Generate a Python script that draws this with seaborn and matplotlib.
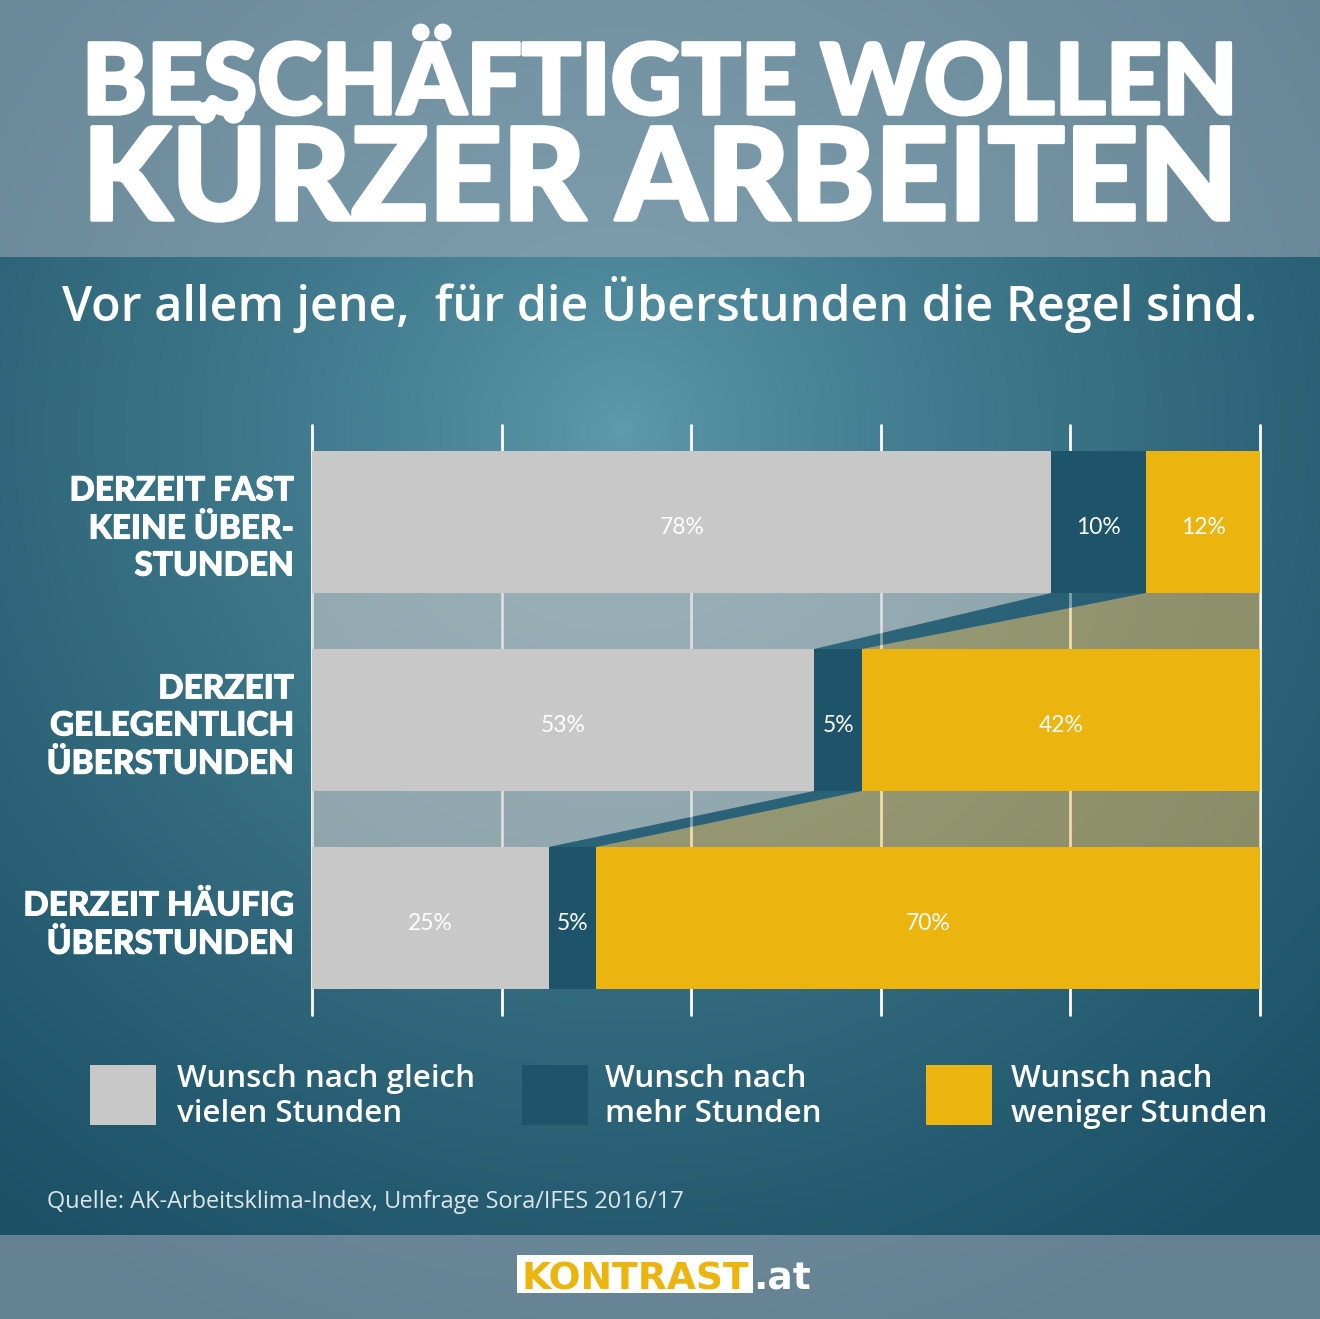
import numpy as np
import pandas as pd
import matplotlib
matplotlib.use("Agg")
import matplotlib.pyplot as plt
import matplotlib.patheffects as pe
import seaborn as sns
from matplotlib.patches import Rectangle, Polygon


# ======================
# DATA
# ======================

categories = [
    "DERZEIT FAST\nKEINE ÜBER-\nSTUNDEN",
    "DERZEIT\nGELEGENTLICH\nÜBERSTUNDEN",
    "DERZEIT HÄUFIG\nÜBERSTUNDEN",
]
gleich = [78, 53, 25]
mehr = [10, 5, 5]
weniger = [12, 42, 70]

legend_labels = [
    ["Wunsch nach gleich", "vielen Stunden"],
    ["Wunsch nach", "mehr Stunden"],
    ["Wunsch nach", "weniger Stunden"],
]
grid_ticks = [0, 20, 40, 60, 80, 100]

title_lines = ["BESCHÄFTIGTE WOLLEN", "KÜRZER ARBEITEN"]
subtitle = "Vor allem jene,  für die Überstunden die Regel sind."
source = "Quelle: AK-Arbeitsklima-Index, Umfrage Sora/IFES 2016/17"


# ======================
# CONFIG
# ======================

sns.set_theme(style="white")
plt.rcParams['font.family'] = ['Lato', 'DejaVu Sans']

GRAY = "#c8c8c8"
DARK = "#1d546a"
YELLOW = "#ecb40f"

W, H = 1320, 1319

df = pd.DataFrame({
    'cat': categories,
    'gleich': gleich,
    'mehr': mehr,
    'weniger': weniger,
})
df['c1'] = df['gleich']
df['c2'] = df['c1'] + df['mehr']
df['c3'] = df['c2'] + df['weniger']


# ======================
# BACKGROUND
# ======================

fig = plt.figure(figsize=(W / 100, H / 100), dpi=100)

bg = fig.add_axes([0, 0, 1, 1])
yy, xx = np.mgrid[0:H, 0:W]
dist = np.clip(np.hypot(xx - 620, yy - 430) / 1000, 0, 1) ** 0.72
inner = np.array([96, 156, 174]) / 255
outer = np.array([27, 80, 101]) / 255
img = inner * (1 - dist[..., None]) + outer * dist[..., None]
band = (yy < 257) | (yy >= 1235)
img[band] = img[band] * 0.5 + np.array([172, 178, 190]) / 255 * 0.5
bg.imshow(img, extent=(0, W, H, 0), aspect='auto', interpolation='bilinear')
bg.set_xlim(0, W)
bg.set_ylim(H, 0)
bg.axis('off')


def fit_width(t, target):
    r = fig.canvas.get_renderer()
    bb = t.get_window_extent(renderer=r)
    t.set_fontsize(t.get_fontsize() * target / bb.width)


# ======================
# TITLE
# ======================

heavy = [pe.withStroke(linewidth=2.5, foreground='white')]

for line, base in zip(title_lines, [114, 220]):
    t = bg.text(660, base, line, ha='center', va='baseline',
                color='white', fontsize=70, fontweight='black',
                family=['Lato', 'DejaVu Sans'], path_effects=heavy)
    fit_width(t, 1156)

t = bg.text(660, 321, subtitle, ha='center', va='baseline',
            color='white', fontsize=30, fontweight='semibold',
            family=['Open Sans', 'DejaVu Sans'])
fit_width(t, 1195)


# ======================
# BARS
# ======================

ax = fig.add_axes([312 / W, (H - 1015) / H, 948 / W, 590 / H])
ax.patch.set_alpha(0)

bw = 142 / 198

for col, color in [('c3', YELLOW), ('c2', DARK), ('c1', GRAY)]:
    sns.barplot(
        data=df, x=col, y='cat', orient='h',
        color=color, saturation=1, width=bw,
        linewidth=0, errorbar=None, ax=ax, zorder=2
    )

# connectors between bars
half = bw / 2
for i in range(len(df) - 1):
    yb = i + half
    yt = i + 1 - half
    a, b = df.iloc[i], df.iloc[i + 1]
    shapes = [
        ([[0, yb], [a.c1, yb], [b.c1, yt], [0, yt]], GRAY, 0.62),
        ([[a.c1, yb], [a.c2, yb], [b.c2, yt], [b.c1, yt]], DARK, 0.55),
        ([[a.c2, yb], [a.c3, yb], [b.c3, yt], [b.c2, yt]], "#e6b860", 0.52),
    ]
    for pts, color, alpha in shapes:
        ax.add_patch(Polygon(pts, closed=True, facecolor=color,
                             alpha=alpha, lw=0, zorder=1))

# value labels
for i, row in df.iterrows():
    start = 0
    for col in ['gleich', 'mehr', 'weniger']:
        val = row[col]
        ax.text(start + val / 2, i + 0.03, f"{val}%", ha='center',
                va='center', color='white', fontsize=16.5)
        start += val

ax.set_xlim(0, 100)
ax.set_ylim(2.49, -0.49)
ax.set_xticks(grid_ticks)
ax.set_xticklabels([])
ax.grid(axis='x', color='white', lw=2)
ax.grid(axis='y', visible=False)
ax.set_axisbelow(True)
for gl in ax.get_xgridlines():
    gl.set_clip_on(False)
ax.set_xlabel("")
ax.set_ylabel("")
ax.tick_params(axis='both', length=0)
ax.tick_params(axis='y', pad=13)
for lab in ax.get_yticklabels():
    lab.set_color('white')
    lab.set_fontsize(24)
    lab.set_fontweight('black')
    lab.set_linespacing(1.33)
    lab.set_multialignment('right')
    lab.set_path_effects([pe.withStroke(linewidth=0.7, foreground='white')])
for s in ax.spines.values():
    s.set_visible(False)


# ======================
# LEGEND
# ======================

box_x = [90, 522, 926]
text_x = [177, 605, 1011]
colors = [GRAY, DARK, YELLOW]

legend_size = None
for bx, tx, color, lines in zip(box_x, text_x, colors, legend_labels):
    bg.add_patch(Rectangle((bx, 1065), 66, 60, facecolor=color, lw=0))
    for line, base in zip(lines, [1087, 1122]):
        t = bg.text(tx, base, line, ha='left', va='baseline',
                    color='white', fontsize=21, fontweight='semibold',
                    family=['Open Sans', 'DejaVu Sans'])
        if legend_size is None:
            fit_width(t, 298)
            legend_size = t.get_fontsize()
        else:
            t.set_fontsize(legend_size)


# ======================
# SOURCE + FOOTER
# ======================

t = bg.text(47, 1208, source, ha='left', va='baseline',
            color='#dce6ea', fontsize=15,
            family=['Open Sans', 'DejaVu Sans'])
fit_width(t, 639)

bg.add_patch(Rectangle((517, 1255), 236, 38, facecolor='white', lw=0))
t = bg.text(635, 1290, "KONTRAST", ha='center', va='baseline',
            color=YELLOW, fontsize=28, fontweight='bold',
            family=['Liberation Sans Narrow', 'DejaVu Sans'])
fit_width(t, 228)
bg.text(753, 1290, ".at", ha='left', va='baseline',
        color='white', fontsize=t.get_fontsize(), fontweight='bold',
        family=['Liberation Sans Narrow', 'DejaVu Sans'])

fig.savefig("out.png", dpi=100)
